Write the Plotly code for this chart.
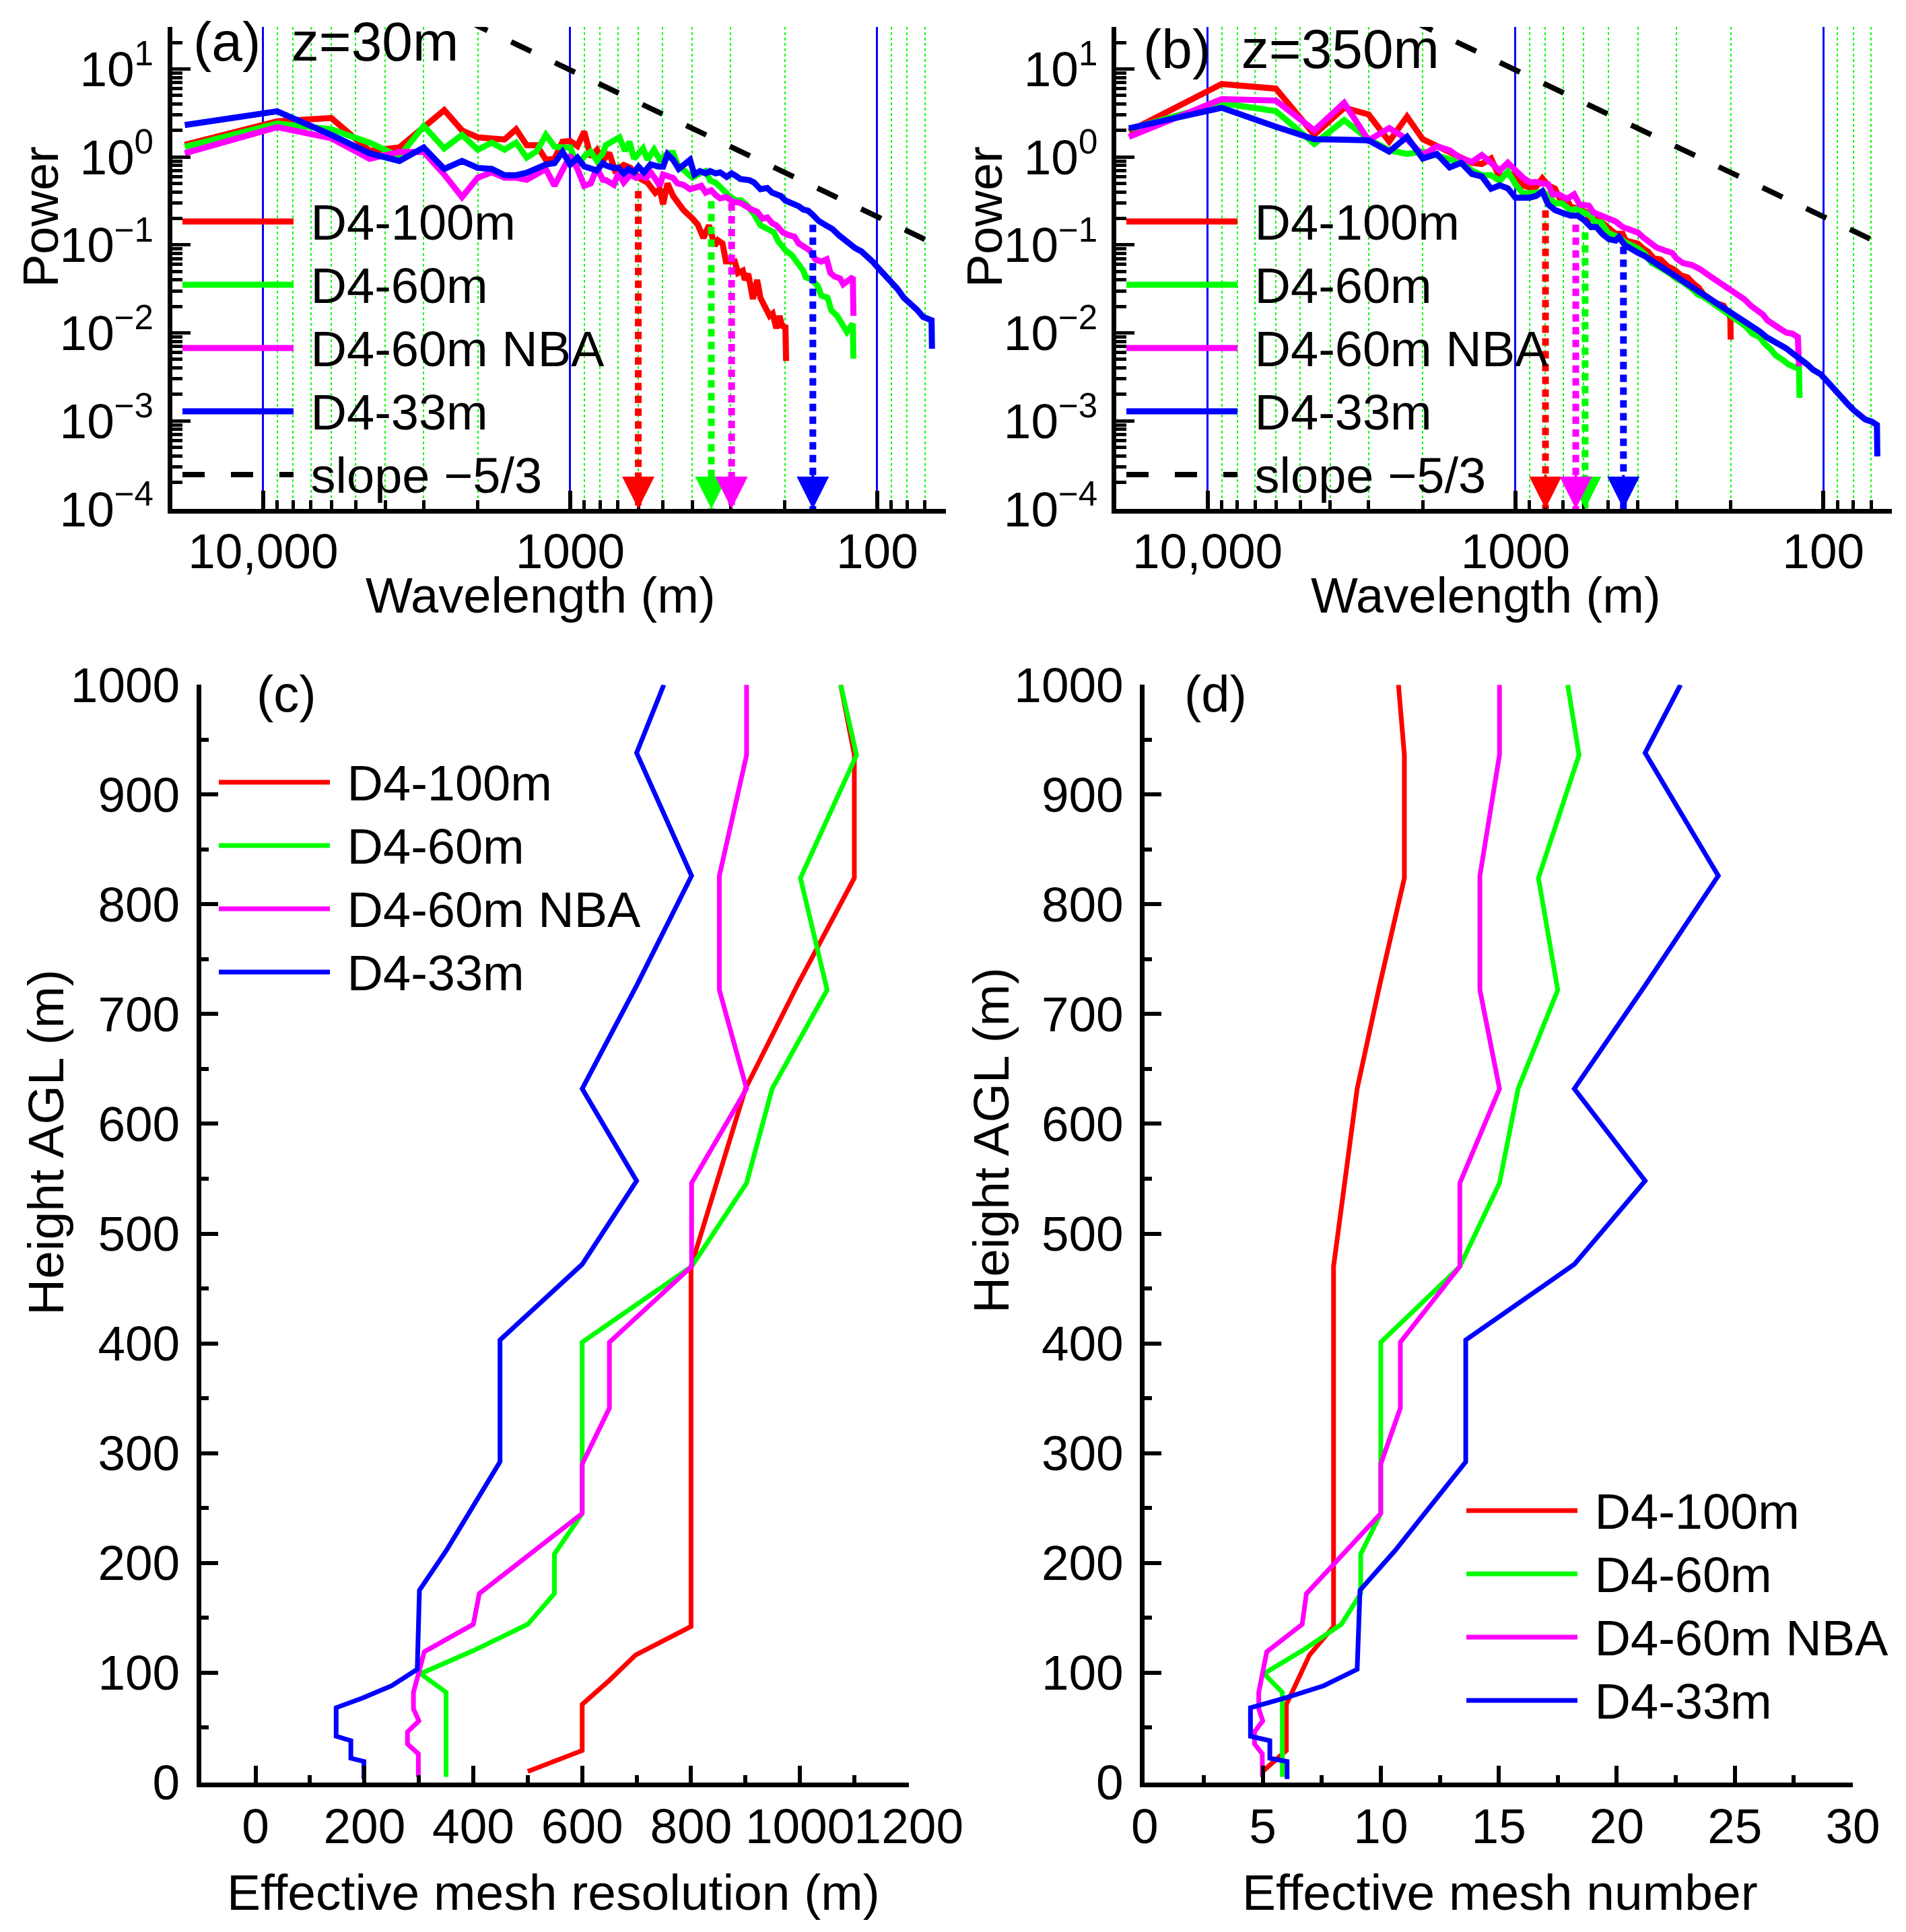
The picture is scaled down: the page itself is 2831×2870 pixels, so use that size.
import math
import plotly.graph_objects as go

# ---------------------------------------------------------------
# data
# ---------------------------------------------------------------

# (a) z=30m, power spectra (wavelength in m, power)
a_red_wl = [18000, 9000, 6000, 4500, 3600, 3000, 2571, 2250, 2000, 1800, 1636, 1500, 1385, 1286, 1200,
            1125, 1059, 1000, 947, 900, 857, 818, 783,
            746, 715, 669, 636, 599, 560, 528, 511, 498, 482, 462, 428, 400, 384, 368, 353, 338, 330,
            319, 311, 291, 284, 274, 270, 263, 254, 246, 240, 230, 224, 219, 213, 208, 204, 199, 198]
a_red_pw = [1.37, 2.54, 2.77, 1.17, 1.28, 2.18, 3.4, 2.0, 1.67, 1.62, 1.58, 2.06, 1.36, 1.36, 0.93,
            0.95, 1.49, 1.52, 1.33, 1.94, 1.0, 1.2, 0.9,
            1.11, 0.71, 0.81, 0.75, 0.58, 0.51, 0.39, 0.43, 0.29, 0.50, 0.36, 0.25, 0.20, 0.17, 0.12, 0.167,
            0.098, 0.113, 0.104, 0.065, 0.065, 0.048, 0.051, 0.040, 0.047, 0.0243, 0.040, 0.025, 0.0187,
            0.0156, 0.0166, 0.0113, 0.0156, 0.012, 0.0116, 0.0048]

a_green_wl = [18000, 9000, 6000, 4500, 3600, 3000, 2571, 2250, 2000, 1800, 1636, 1500, 1385, 1286, 1200,
              1125, 1059, 1000, 947, 900, 857, 818, 783,
              765, 691, 663, 641, 620, 579, 560, 533, 511, 478, 462, 447, 411, 400, 378, 362, 350, 336,
              319, 306, 289, 277, 265, 252, 240, 228, 217, 210, 199, 190, 180, 174, 171, 163, 156, 152,
              145, 141, 135, 129, 125.5, 120, 119.5]
a_green_pw = [1.3, 2.39, 2.06, 1.45, 1.01, 2.25, 1.25, 1.78, 1.21, 1.45, 1.21, 1.45, 0.98, 1.16, 1.78,
              1.31, 1.28, 1.28, 0.8, 1.01, 1.15, 0.9, 1.1,
              1.36, 1.67, 1.17, 1.49, 0.955, 1.25, 0.93, 1.21, 0.93, 1.11, 1.11, 0.82, 0.65, 0.58, 0.65,
              0.69, 0.54, 0.51, 0.43, 0.37, 0.32, 0.32, 0.28, 0.224, 0.167, 0.152, 0.139, 0.110, 0.087,
              0.077, 0.061, 0.051, 0.043, 0.040, 0.034, 0.0266, 0.025, 0.018, 0.0156, 0.012, 0.0103,
              0.0127, 0.0051]

a_mag_wl = [18000, 9000, 6000, 4500, 3600, 3000, 2571, 2250, 2000, 1800, 1636, 1500, 1385, 1286, 1200,
            1125, 1059, 1000, 947, 900, 857, 818, 783,
            765, 721, 697, 669, 636, 610, 585, 565, 547, 524, 511, 498, 462, 447, 428, 407, 390, 374,
            362, 347, 336, 325, 309, 296, 279, 268, 256, 246, 236, 228, 220, 213, 203, 196, 186, 180,
            174, 166, 159, 152, 146, 142, 138, 132, 129, 124.5, 120, 119.5]
a_mag_pw = [1.1, 2.18, 1.63, 0.95, 1.14, 1.14, 0.63, 0.35, 0.58, 0.67, 0.58, 0.58, 0.55, 0.63, 0.73,
            0.47, 0.73, 1.04, 0.73, 0.47, 0.5, 0.75, 0.55,
            0.544, 0.483, 0.65, 0.513, 0.63, 0.577, 0.612, 0.577, 0.67, 0.544, 0.469, 0.63, 0.577, 0.50,
            0.483, 0.43, 0.443, 0.469, 0.393, 0.417, 0.37, 0.339, 0.349, 0.31, 0.301, 0.275, 0.252,
            0.238, 0.199, 0.205, 0.177, 0.167, 0.139, 0.131, 0.124, 0.104, 0.098, 0.087, 0.0686,
            0.0646, 0.0686, 0.048, 0.044, 0.0415, 0.0357, 0.039, 0.043, 0.0156]

a_blue_wl = [18000, 9000, 6000, 4500, 3600, 3000, 2571, 2250, 2000, 1800, 1636, 1500, 1385, 1286, 1200,
             1125, 1059, 1000, 947, 900, 857, 818, 783,
             765, 727, 697, 669, 646, 620, 599, 575, 547, 515, 498, 482, 462, 443, 425, 407, 394, 378,
             362, 350, 336, 325, 309, 298, 289, 279, 261, 252, 240, 228, 220, 206, 199, 190, 180, 174,
             168, 163, 155, 147, 140, 133, 129, 122, 118, 112.5, 107, 103.5, 99.7, 95.1, 90.4, 86.0,
             81.8, 77.8, 73.9, 70.9, 68.0, 66.5, 66.3]
a_blue_pw = [2.3, 3.3, 1.78, 1.1, 0.9, 1.28, 0.73, 0.9, 0.75, 0.73, 0.62, 0.62, 0.66, 0.75, 0.82,
             0.85, 1.14, 0.82, 0.98, 0.78, 0.75, 0.7, 0.85,
             0.80, 0.754, 0.754, 0.65, 0.73, 0.668, 0.776, 0.668, 0.824, 0.776, 0.776, 1.07, 0.926,
             0.731, 0.824, 0.926, 0.63, 0.69, 0.65, 0.69, 0.65, 0.668, 0.594, 0.65, 0.612, 0.561, 0.544,
             0.513, 0.43, 0.443, 0.393, 0.36, 0.319, 0.301, 0.275, 0.252, 0.245, 0.224, 0.187, 0.167,
             0.152, 0.128, 0.117, 0.1007, 0.092, 0.0844, 0.0727, 0.0646, 0.0557, 0.0467, 0.039, 0.0318,
             0.025, 0.0216, 0.0181, 0.0152, 0.0147, 0.0139, 0.0066]

# (b) z=350m
b_red_wl = [18000, 9000, 6000, 4500, 3600, 3000, 2571, 2250, 2000, 1800, 1636, 1500, 1385, 1286, 1200,
            1125, 1059, 1000, 947, 900, 857, 818,
            783, 744, 720, 684, 662, 640, 588, 574, 550, 523, 506, 489, 473, 449, 438, 420, 400, 386,
            371, 355, 338, 321, 305, 290, 276, 265, 254, 245, 233, 222, 211, 204, 200.5, 200]
b_red_pw = [1.95, 6.73, 5.97, 1.79, 3.62, 3.04, 1.50, 2.87, 1.59, 1.33, 1.12, 0.95, 0.857, 0.83, 0.96,
            0.585, 0.65, 0.61, 0.475, 0.45, 0.46, 0.57,
            0.475, 0.435, 0.344, 0.334, 0.272, 0.264, 0.235, 0.197, 0.203, 0.18, 0.16, 0.147, 0.134,
            0.134, 0.112, 0.106, 0.103, 0.0916, 0.0838, 0.0702, 0.0682, 0.0572, 0.0523, 0.0452, 0.0426,
            0.0367, 0.0327, 0.0274, 0.0243, 0.0216, 0.0204, 0.0161, 0.015, 0.0084]

b_green_wl = [18000, 9000, 6000, 4500, 3600, 3000, 2571, 2250, 2000, 1800, 1636, 1500, 1385, 1286, 1200,
              1125, 1059, 1000, 947, 900, 857, 818,
              783, 744, 708, 679, 662, 634, 598, 569, 555, 527, 501, 481, 457, 438, 420, 400, 380, 361,
              344, 327, 313, 300, 286, 267, 256, 245, 233, 218, 207, 197, 188, 178, 170, 161, 155, 148,
              143, 136, 130, 123, 120, 119.5]
b_green_pw = [2.07, 4.07, 3.32, 1.41, 2.62, 1.59, 1.19, 1.08, 1.15, 1.05, 0.94, 0.857, 0.70, 0.62, 0.62,
              0.535, 0.68, 0.49, 0.387, 0.387, 0.40, 0.40,
              0.365, 0.297, 0.297, 0.272, 0.249, 0.256, 0.228, 0.215, 0.185, 0.18, 0.138, 0.130, 0.119,
              0.106, 0.100, 0.0916, 0.079, 0.0624, 0.0572, 0.0523, 0.0466, 0.0413, 0.0379, 0.0317,
              0.0274, 0.0258, 0.0230, 0.0198, 0.0171, 0.0152, 0.0135, 0.0117, 0.00977, 0.00895, 0.0075,
              0.00647, 0.00559, 0.00497, 0.00441, 0.00404, 0.00393, 0.00183]

b_mag_wl = [18000, 9000, 6000, 4500, 3600, 3000, 2571, 2250, 2000, 1800, 1636, 1500, 1385, 1286, 1200,
            1125, 1059, 1000, 947, 900, 857, 818,
            783, 757, 726, 679, 645, 619, 578, 559, 523, 489, 473, 449, 427, 400, 386, 367, 349, 327,
            310, 300, 286, 267, 250, 233, 222, 211, 200.5, 191, 181, 172, 164, 157, 152, 146, 139, 132,
            126, 121, 120]
b_mag_pw = [1.69, 4.53, 4.37, 2.01, 4.12, 1.54, 2.13, 1.59, 1.05, 1.32, 1.19, 0.96, 0.88, 1.05, 0.857,
            0.70, 0.857, 0.70, 0.585, 0.513, 0.52, 0.50,
            0.49, 0.376, 0.376, 0.334, 0.376, 0.288, 0.28, 0.235, 0.215, 0.191, 0.185, 0.16, 0.151,
            0.138, 0.123, 0.106, 0.094, 0.0863, 0.0813, 0.0702, 0.0624, 0.0589, 0.0523, 0.0439, 0.039,
            0.0347, 0.0308, 0.0274, 0.0243, 0.0204, 0.0182, 0.0161, 0.0139, 0.0124, 0.0113, 0.0101,
            0.00977, 0.00895, 0.00417]

b_blue_wl = [18000, 9000, 6000, 4500, 3600, 3000, 2571, 2250, 2000, 1800, 1636, 1500, 1385, 1286, 1200,
             1125, 1059, 1000, 947, 900, 857, 818,
             783, 744, 696, 662, 629, 598, 569, 546, 523, 497, 473, 461, 442, 420, 400, 380, 361, 344,
             327, 310, 295, 281, 267, 254, 241, 229, 218, 207, 197, 188, 178, 170, 161, 153, 146, 139,
             132, 125, 119, 113, 108, 102, 97.4, 92.6, 88.0, 83.7, 79.6, 75.7, 73.2, 69.6, 67.0, 66.8]
b_blue_pw = [2.11, 3.62, 2.20, 1.59, 1.57, 1.54, 1.15, 1.69, 0.96, 1.08, 0.76, 0.857, 0.64, 0.60, 0.435,
             0.475, 0.44, 0.344, 0.344, 0.344, 0.36, 0.405,
             0.288, 0.249, 0.228, 0.215, 0.215, 0.191, 0.16, 0.16, 0.134, 0.116, 0.112, 0.123, 0.10,
             0.089, 0.0813, 0.0745, 0.0662, 0.0589, 0.0539, 0.0479, 0.0413, 0.0379, 0.0327, 0.029,
             0.0266, 0.023, 0.0204, 0.0187, 0.0166, 0.0148, 0.0131, 0.0117, 0.0104, 0.00895, 0.0082,
             0.0075, 0.00667, 0.00575, 0.00512, 0.00441, 0.00381, 0.00339, 0.00284, 0.00238, 0.00194,
             0.00158, 0.00132, 0.00117, 0.00104, 0.00098, 0.0009, 0.000395]

# -5/3 reference line (end points)
slope_wl = [3000, 66.8]
slope_pw = [60.6, 0.107]

# effective-resolution arrows: wavelength, power where the dotted line starts
a_arrow_wl = [600, 347, 298, 162]
a_arrow_top = [0.41, 0.315, 0.297, 0.17]
b_arrow_wl = [799, 594, 637, 446]
b_arrow_top = [0.247, 0.139, 0.17, 0.0955]

# (c)/(d) profiles: height AGL (m), effective resolution (m), effective mesh number
red_z = [10, 29, 71, 93, 116, 142, 470, 632, 726, 824, 936, 1000]
red_res = [500, 600, 600, 650, 698, 800, 800, 900, 995, 1100, 1100, 1075]
red_num = [5.0, 6.0, 6.0, 6.5, 6.98, 8.0, 8.0, 9.0, 9.95, 11.0, 11.0, 10.75]

green_z = [5, 82, 99, 120, 144, 172, 208, 245, 401, 470, 546, 632, 722, 824, 936, 1000]
green_res = [350, 350, 303, 400, 500, 549, 549, 600, 600, 801, 902, 949, 1050, 1001, 1104, 1075]
green_num = [5.83, 5.83, 5.05, 6.67, 8.33, 9.15, 9.15, 10.0, 10.0, 13.35, 15.03, 15.82, 17.5, 16.68,
             18.4, 17.92]

mag_z = [5, 26, 35, 46, 56, 67, 82, 119, 144, 172, 245, 290, 341, 401, 470, 546, 632, 722, 826, 936, 1000]
mag_res = [299, 299, 279, 279, 300, 290, 290, 310, 400, 411, 600, 600, 650, 650, 801, 801, 902, 852,
           852, 902, 902]
mag_num = [4.98, 4.98, 4.65, 4.65, 5.0, 4.83, 4.83, 5.17, 6.67, 6.85, 10.0, 10.0, 10.83, 10.83, 13.35,
           13.35, 15.03, 14.2, 14.2, 15.03, 15.03]

blue_z = [3, 19, 22, 38, 42, 68, 77, 88, 103, 175, 211, 253, 292, 403, 472, 548, 632, 726, 826, 938, 1000]
blue_res = [199, 199, 175, 175, 148, 148, 197, 250, 297, 301, 350, 402, 449, 449, 600, 700, 600, 700,
            801, 700, 750]
blue_num = [6.03, 6.03, 5.30, 5.30, 4.48, 4.48, 5.97, 7.58, 9.0, 9.12, 10.6, 12.18, 13.6, 13.6, 18.2,
            21.2, 18.2, 21.2, 24.3, 21.2, 22.7]

names = ['D4-100m', 'D4-60m', 'D4-60m NBA', 'D4-33m']
colors = ['#ff0000', '#00ff00', '#ff00ff', '#0000ff']

# ---------------------------------------------------------------
# page geometry (the page body keeps an 8px margin)
# ---------------------------------------------------------------
W, H, OFF = 2815, 2854, 8
FONT = 'Arial, "Liberation Sans", sans-serif'


def fx(p):
    return (p - OFF) / W


def fy(p):
    return 1 - (p - OFF) / H


def entry(text):
    # legend rows are spaced by the legend font (70px); the words themselves are a bit larger
    return '<span style="font-size:74px">\u00a0' + text + '</span>'


P_MIN, P_MAX = 1e-4, 30.0
WL_RANGE = [math.log10(19800), math.log10(59.8)]

fig = go.Figure()

spectra = {
    'a': ([a_red_wl, a_green_wl, a_mag_wl, a_blue_wl], [a_red_pw, a_green_pw, a_mag_pw, a_blue_pw]),
    'b': ([b_red_wl, b_green_wl, b_mag_wl, b_blue_wl], [b_red_pw, b_green_pw, b_mag_pw, b_blue_pw]),
}
axes = {'a': ('x', 'y', 'legend'), 'b': ('x2', 'y2', 'legend2')}

for key in ('a', 'b'):
    xa, ya, lg = axes[key]
    wls, pws = spectra[key]
    for name, col, wl, pw in zip(names, colors, wls, pws):
        fig.add_trace(go.Scatter(x=wl, y=pw, mode='lines', name=entry(name),
                                 line=dict(color=col, width=9), xaxis=xa, yaxis=ya, legend=lg))
    fig.add_trace(go.Scatter(x=slope_wl, y=slope_pw, mode='lines', name=entry('slope \u22125/3'),
                             line=dict(color='black', width=8, dash='33px,39px'),
                             xaxis=xa, yaxis=ya, legend=lg))

arrows = {'a': (a_arrow_wl, a_arrow_top), 'b': (b_arrow_wl, b_arrow_top)}
annotations = []
for key in ('a', 'b'):
    xa, ya, lg = axes[key]
    for col, wl, top in zip(colors, *arrows[key]):
        fig.add_trace(go.Scatter(x=[wl, wl], y=[top, P_MIN], mode='lines', showlegend=False,
                                 line=dict(color=col, width=10, dash='11px,8px'),
                                 xaxis=xa, yaxis=ya, hoverinfo='skip'))
        annotations.append(dict(x=math.log10(wl), y=math.log10(P_MIN), xref=xa, yref=ya, text='',
                                showarrow=True, arrowhead=2, arrowsize=2.4, arrowwidth=4,
                                arrowcolor=col, ax=0, ay=-52, standoff=0))

profiles_res = [red_res, green_res, mag_res, blue_res]
profiles_num = [red_num, green_num, mag_num, blue_num]
profiles_z = [red_z, green_z, mag_z, blue_z]
for name, col, xs, zs in zip(names, colors, profiles_res, profiles_z):
    fig.add_trace(go.Scatter(x=xs, y=zs, mode='lines', name=entry(name),
                             line=dict(color=col, width=7), xaxis='x3', yaxis='y3', legend='legend3'))
for name, col, xs, zs in zip(names, colors, profiles_num, profiles_z):
    fig.add_trace(go.Scatter(x=xs, y=zs, mode='lines', name=entry(name),
                             line=dict(color=col, width=7), xaxis='x4', yaxis='y4', legend='legend4'))

# ---------------------------------------------------------------
# axes
# ---------------------------------------------------------------
minor_wl = [m * 10 ** e for e in (1, 2, 3) for m in range(2, 10)]
minor_pw = [m * 10.0 ** e for e in range(-4, 2) for m in range(2, 10)]
pw_ticks = [10.0 ** e for e in range(-4, 2)]
pw_text = ['10<sup>%s</sup>' % (str(e).replace('-', '\u2212')) for e in range(-4, 2)]

common = dict(showline=True, linewidth=7, linecolor='black', ticks='inside', tickcolor='black',
              zeroline=False, tickfont=dict(size=73, color='black'), tickangle=0, automargin=False)


def wl_axis(domain, anchor):
    return dict(common, type='log', domain=domain, anchor=anchor, range=WL_RANGE,
                tickvals=[10000, 1000, 100], ticktext=['10,000', '1000', '100'],
                ticklen=27, tickwidth=6, showgrid=True, gridcolor='#0000ff', gridwidth=3,
                ticklabelstandoff=-7,
                minor=dict(tickvals=minor_wl, ticks='inside', ticklen=13, tickwidth=5, tickcolor='black',
                           showgrid=True, gridcolor='#00ff00', gridwidth=1.5, griddash='4px,4px'))


def pw_axis(domain, anchor):
    return dict(common, type='log', domain=domain, anchor=anchor,
                range=[math.log10(P_MIN), math.log10(P_MAX)],
                tickvals=pw_ticks, ticktext=pw_text, ticklen=27, tickwidth=5, showgrid=False,
                ticklabelstandoff=6,
                minor=dict(tickvals=minor_pw, ticks='inside', ticklen=15, tickwidth=5, tickcolor='black'))


y_top = [fy(756), fy(40)]
y_bot = [fy(2647.7), fy(1017.3)]


def prof_axis(domain, anchor, rng, dtick, mdtick, standoff):
    return dict(common, domain=domain, anchor=anchor, range=rng, tick0=0, dtick=dtick,
                ticklen=25, tickwidth=6, showgrid=False, ticklabelstandoff=standoff,
                minor=dict(tick0=0, dtick=mdtick, ticks='inside', ticklen=11, tickwidth=6,
                           tickcolor='black'))


layout_axes = dict(
    xaxis=wl_axis([fx(255.6), fx(1404.7)], 'y'),
    yaxis=pw_axis(y_top, 'x'),
    xaxis2=wl_axis([fx(1657.9), fx(2810.4)], 'y2'),
    yaxis2=pw_axis(y_top, 'x2'),
    xaxis3=prof_axis([fx(298.8), fx(1349.8)], 'y3', [-100, 1200], 200, 100, -4),
    yaxis3=prof_axis(y_bot, 'x3', [0, 1000], 100, 50, 10),
    xaxis4=prof_axis([fx(1700.3), fx(2752)], 'y4', [0, 30], 5, 2.5, -4),
    yaxis4=prof_axis(y_bot, 'x4', [0, 1000], 100, 50, 10),
)

# ---------------------------------------------------------------
# texts
# ---------------------------------------------------------------
def label(text, x, y, size, angle=0, xanchor='center'):
    return dict(text=text, x=fx(x), y=fy(y), xref='paper', yref='paper', showarrow=False,
                xanchor=xanchor, yanchor='middle', textangle=angle,
                font=dict(size=size, color='black', family=FONT))


annotations += [
    label('(a)  z=30m', 285, 62, 82, xanchor='left'),
    label('(b)  z=350m', 1696, 72, 82, xanchor='left'),
    label('Power', 61, 322, 74, -90),
    label('Power', 1463, 322, 74, -90),
    label('Wavelength (m)', 803, 884, 74),
    label('Wavelength (m)', 2207, 884, 74),
    label('(c)', 379, 1030, 76, xanchor='left'),
    label('(d)', 1757, 1030, 76, xanchor='left'),
    label('Height AGL (m)', 68, 1697, 75, -90),
    label('Height AGL (m)', 1472, 1694, 75, -90),
    label('Effective mesh resolution (m)', 822, 2811, 75),
    label('Effective mesh number', 2228, 2811, 75),
]


def legend_box(x, y):
    return dict(x=fx(x), y=fy(y), xanchor='left', yanchor='top', bgcolor='rgba(0,0,0,0)',
                borderwidth=0, font=dict(size=70, color='black', family=FONT), itemwidth=165,
                tracegroupgap=0)


fig.update_layout(
    width=W, height=H, margin=dict(l=0, r=0, t=0, b=0, autoexpand=False),
    paper_bgcolor='white', plot_bgcolor='white',
    font=dict(family=FONT, color='black', size=73),
    showlegend=True,
    legend=legend_box(266, 277),
    legend2=legend_box(1668, 277),
    legend3=legend_box(320, 1110),
    legend4=legend_box(2173, 2192),
    annotations=annotations,
    **layout_axes,
)

fig.write_html("out.html")
